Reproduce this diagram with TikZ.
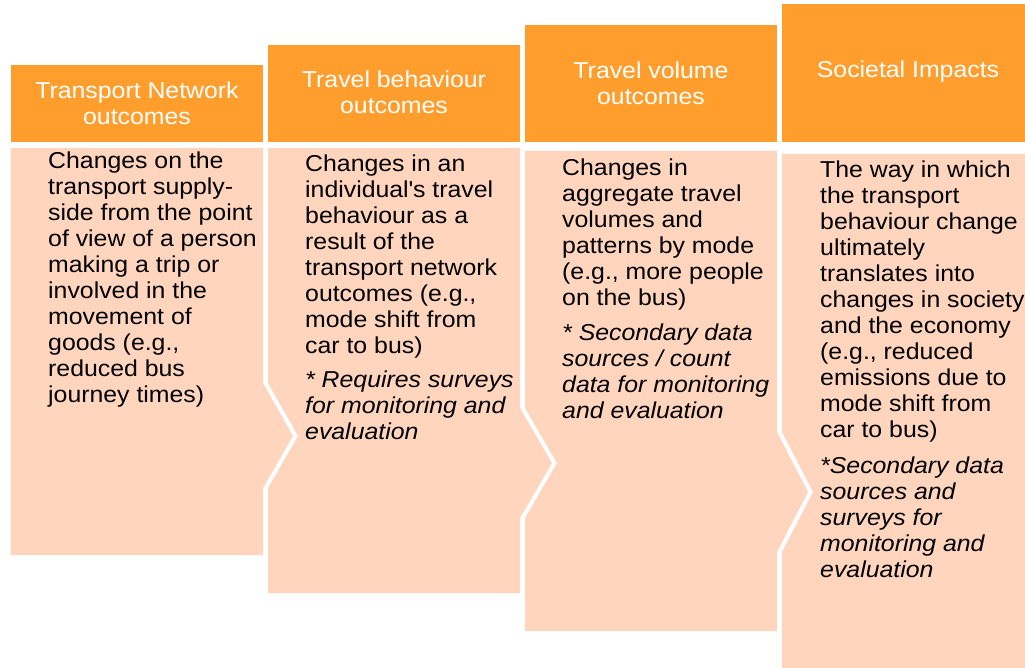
\documentclass[tikz,border=0pt]{standalone}
\usepackage{fontspec}
\setmainfont{Liberation Sans}[FakeStretch=1.08]
\definecolor{headorange}{RGB}{255,158,45}
\definecolor{bodypeach}{RGB}{255,213,190}
\tikzset{
  headbox/.style={fill=headorange, draw=none},
  bodybox/.style={fill=bodypeach, draw=none},
  headtext/.style={text=white, align=center, inner sep=0pt, font=\fontsize{23}{26}\selectfont},
  bodytext/.style={anchor=base west, inner sep=0pt, text=black},
}
\newcommand{\bodypar}[2]{\parbox[t]{#1}{\fontsize{23}{26}\selectfont\raggedright #2}}
\begin{document}
\begin{tikzpicture}[x=1pt,y=-1pt]
\useasboundingbox (0,0) rectangle (1025,668);
% headers
\fill[headbox] (10.5,65) rectangle (263,142);
\fill[headbox] (268,45) rectangle (520,142);
\fill[headbox] (525,25) rectangle (777,142);
\fill[headbox] (782,4) rectangle (1025,142);
\node[headtext] (h1) at (137,103.5) {Transport Network\\outcomes};
\node[headtext] (h2) at (394,92.5) {Travel behaviour\\outcomes};
\node[headtext] (h3) at (651,83.5) {Travel volume\\outcomes};
\node[headtext] (h4) at (908,72) {Societal Impacts};
% bodies
\fill[bodybox] (10.5,148) -- (263,148) -- (263,383) -- (293,436) -- (263,488) -- (263,555) -- (10.5,555) -- cycle;
\fill[bodybox] (268,148) -- (520,148) -- (520,408) -- (552,463) -- (520,518) -- (520,593) -- (268,593) -- (268,488) -- (298,436) -- (268,383) -- cycle;
\fill[bodybox] (525,151) -- (777,151) -- (777,432) -- (808,492) -- (777,552) -- (777,631) -- (525,631) -- (525,518) -- (557,463) -- (525,408) -- cycle;
\fill[bodybox] (782,154) -- (1025,154) -- (1025,668) -- (782,668) -- (782,552) -- (813,492) -- (782,432) -- cycle;
% body texts
\node[bodytext] (b1) at (48,169) {\bodypar{230pt}{Changes on the\\transport supply-\\side from the point\\of view of a person\\making a trip or\\involved in the\\movement of\\goods (e.g.,\\reduced bus\\journey times)}};
\node[bodytext] (b2) at (305,172) {\bodypar{230pt}{Changes in an\\individual\textquotesingle s travel\\behaviour as a\\result of the\\transport network\\outcomes (e.g.,\\mode shift from\\car to bus)\\[8pt]
\textit{* Requires surveys\\for monitoring and\\evaluation}}};
\node[bodytext] (b3) at (562,176) {\bodypar{230pt}{Changes in\\aggregate travel\\volumes and\\patterns by mode\\(e.g., more people\\on the bus)\\[9pt]
\textit{* Secondary data\\sources / count\\data for monitoring\\and evaluation}}};
\node[bodytext] (b4) at (820,178) {\bodypar{230pt}{The way in which\\the transport\\behaviour change\\ultimately\\translates into\\changes in society\\and the economy\\(e.g., reduced\\emissions due to\\mode shift from\\car to bus)\\[10pt]
\textit{*Secondary data\\sources and\\surveys for\\monitoring and\\evaluation}}};
\end{tikzpicture}
\end{document}
